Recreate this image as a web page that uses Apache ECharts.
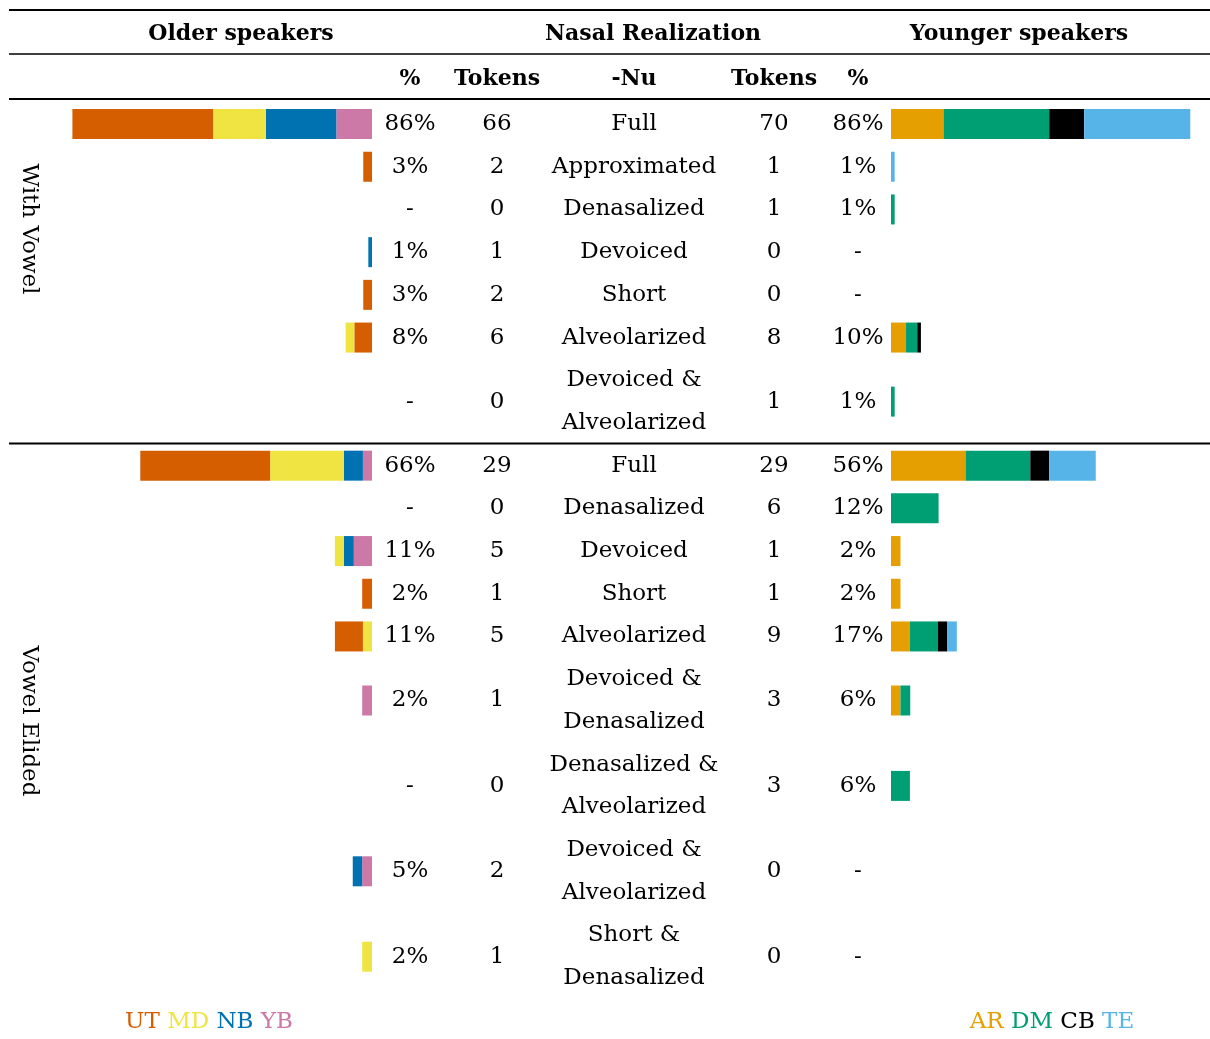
<!DOCTYPE html>
<html>
<head>
<meta charset="utf-8">
<script src="https://cdn.jsdelivr.net/npm/echarts@6/dist/echarts.min.js"></script>
<style>
  body { margin: 0; background: #fff; }
  #main { width: 1210px; height: 1039px; }
</style>
</head>
<body>
<div id="main"></div>
<script>
  // rows of the table, top to bottom
  var rowLabels = ['Full', 'Approximated', 'Denasalized', 'Devoiced', 'Short', 'Alveolarized', 'Devoiced &\nAlveolarized',
    'Full', 'Denasalized', 'Devoiced', 'Short', 'Alveolarized', 'Devoiced &\nDenasalized', 'Denasalized &\nAlveolarized',
    'Devoiced &\nAlveolarized', 'Short &\nDenasalized'];
  var olderPct = ['86%', '3%', '-', '1%', '3%', '8%', '-', '66%', '-', '11%', '2%', '11%', '2%', '-', '5%', '2%'];
  var olderTokens = [66, 2, 0, 1, 2, 6, 0, 29, 0, 5, 1, 5, 1, 0, 2, 1];
  var youngerTokens = [70, 1, 1, 0, 0, 8, 1, 29, 6, 1, 1, 9, 3, 3, 0, 0];
  var youngerPct = ['86%', '1%', '1%', '-', '-', '10%', '1%', '56%', '12%', '2%', '2%', '17%', '6%', '6%', '-', '-'];
  var groupNames = ['With Vowel', 'Vowel Elided'];

  // bar segments per row (% share), listed from the middle column outwards
  var olderBars = [
    [['YB', 10.2], ['NB', 20.1], ['MD', 15.1], ['UT', 40.2]],
    [['UT', 2.5]],
    [],
    [['NB', 1.05]],
    [['UT', 2.5]],
    [['UT', 5.05], ['MD', 2.5]],
    [],
    [['YB', 2.6], ['NB', 5.4], ['MD', 21.1], ['UT', 37.1]],
    [],
    [['YB', 5.2], ['NB', 2.8], ['MD', 2.6]],
    [['UT', 2.8]],
    [['MD', 2.6], ['UT', 8.0]],
    [['YB', 2.8]],
    [],
    [['YB', 2.8], ['NB', 2.7]],
    [['MD', 2.8]]
  ];
  var youngerBars = [
    [['AR', 15.0], ['DM', 30.2], ['CB', 10.0], ['TE', 30.3]],
    [['TE', 1.05]],
    [['DM', 1.05]],
    [],
    [],
    [['AR', 4.3], ['DM', 3.2], ['CB', 1.05]],
    [['DM', 1.05]],
    [['AR', 21.3], ['DM', 18.5], ['CB', 5.4], ['TE', 13.3]],
    [['DM', 13.6]],
    [['AR', 2.7]],
    [['AR', 2.7]],
    [['AR', 5.4], ['DM', 8.0], ['CB', 2.6], ['TE', 2.8]],
    [['AR', 2.7], ['DM', 2.8]],
    [['DM', 5.4]],
    [],
    []
  ];
  var olderSpeakers = ['UT', 'MD', 'NB', 'YB'];
  var youngerSpeakers = ['AR', 'DM', 'CB', 'TE'];

  var colors = {
    UT: '#D55E00', MD: '#F0E442', NB: '#0072B2', YB: '#CC79A7',
    AR: '#E69F00', DM: '#009E73', CB: '#000000', TE: '#56B4E9'
  };
  var FONT = 'DejaVu Serif';
  var FS = 23;
  var HALF = 21.35;
  var bodyTop = 102.7;

  // half-line slots: a one-line row takes 2, a two-line row takes 4
  var slots = [];
  var centerOf = {};
  var rowCenter = [];
  var pos = 0;
  for (var i = 0; i < rowLabels.length; i++) {
    var span = rowLabels[i].indexOf('\n') >= 0 ? 4 : 2;
    centerOf[pos + span / 2] = i;
    rowCenter.push(pos + span / 2);
    pos += span;
  }
  for (var k = 0; k <= pos; k++) slots.push('s' + k);

  function textAxis(grid, position, margin, arr) {
    return {
      type: 'category', gridIndex: grid, data: slots, boundaryGap: false, inverse: true,
      position: position,
      axisLine: { show: false }, axisTick: { show: false }, splitLine: { show: false },
      axisLabel: {
        interval: 0, margin: margin, align: 'center', verticalAlign: 'middle',
        fontFamily: FONT, fontSize: FS, color: '#000', lineHeight: 2 * HALF,
        padding: [4, 0, 0, 0],
        formatter: function (v, idx) {
          return centerOf[idx] === undefined ? '' : String(arr[centerOf[idx]]);
        }
      }
    };
  }

  function barSeries(bars, side) {
    var out = [];
    for (var s = 0; s < 4; s++) {
      var data = slots.map(function () { return '-'; });
      for (var r = 0; r < bars.length; r++) {
        var seg = bars[r][s];
        if (!seg) continue;
        data[rowCenter[r]] = { value: seg[1], itemStyle: { color: colors[seg[0]] } };
      }
      out.push({
        type: 'bar', name: side + s, stack: side, barWidth: 30,
        xAxisIndex: side === 'older' ? 0 : 1, yAxisIndex: side === 'older' ? 0 : 4,
        data: data, silent: true
      });
    }
    return out;
  }

  var graphic = [];
  [[10, 2], [54, 1.5], [99, 2], [443.5, 2]].forEach(function (l) {
    graphic.push({ type: 'line', shape: { x1: 9, y1: l[0], x2: 1210, y2: l[0] }, style: { stroke: '#000', lineWidth: l[1] } });
  });
  function txt(t, x, y) {
    graphic.push({ type: 'text', x: x, y: y, style: { text: t, fill: '#000', font: 'bold 22px "' + FONT + '"', align: 'center', verticalAlign: 'middle' } });
  }
  txt('Older speakers', 241, 34);
  txt('Nasal Realization', 653, 34);
  txt('Younger speakers', 1019, 34);
  txt('%', 410, 79);
  txt('Tokens', 497, 79);
  txt('-Nu', 634, 79);
  txt('Tokens', 774, 79);
  txt('%', 858, 79);
  graphic.push({ type: 'text', x: 29, y: 229, rotation: -Math.PI / 2, style: { text: groupNames[0], fill: '#000', font: FS + 'px "' + FONT + '"', align: 'center', verticalAlign: 'middle' } });
  graphic.push({ type: 'text', x: 29, y: 721, rotation: -Math.PI / 2, style: { text: groupNames[1], fill: '#000', font: FS + 'px "' + FONT + '"', align: 'center', verticalAlign: 'middle' } });

  function legendText(names, x) {
    var rich = {};
    names.forEach(function (n) { rich[n] = { fill: colors[n], font: FS + 'px "' + FONT + '"' }; });
    graphic.push({
      type: 'text', x: x, y: 1022,
      style: { text: names.map(function (n) { return '{' + n + '|' + n + '}'; }).join(' '), rich: rich, align: 'center', verticalAlign: 'middle', font: FS + 'px "' + FONT + '"' }
    });
  }
  legendText(olderSpeakers, 209);
  legendText(youngerSpeakers, 1052);

  function hiddenCat(grid) {
    return { type: 'category', gridIndex: grid, data: slots, boundaryGap: false, inverse: true, show: false };
  }

  var option = {
    animation: false,
    grid: [
      { left: 22, top: bodyTop, width: 350, height: 42 * HALF },
      { left: 891, top: bodyTop, width: 315, height: 42 * HALF }
    ],
    xAxis: [
      { type: 'value', gridIndex: 0, min: 0, max: 100, inverse: true, show: false },
      { type: 'value', gridIndex: 1, min: 0, max: 90, show: false }
    ],
    yAxis: [
      hiddenCat(0),
      textAxis(0, 'right', 38, olderPct),
      textAxis(0, 'right', 125, olderTokens),
      textAxis(0, 'right', 262, rowLabels),
      hiddenCat(1),
      textAxis(1, 'left', 117, youngerTokens),
      textAxis(1, 'left', 33, youngerPct)
    ],
    graphic: graphic,
    series: barSeries(olderBars, 'older').concat(barSeries(youngerBars, 'younger'))
  };

  var chart = echarts.init(document.getElementById('main'));
  chart.setOption(option);
</script>
</body>
</html>
